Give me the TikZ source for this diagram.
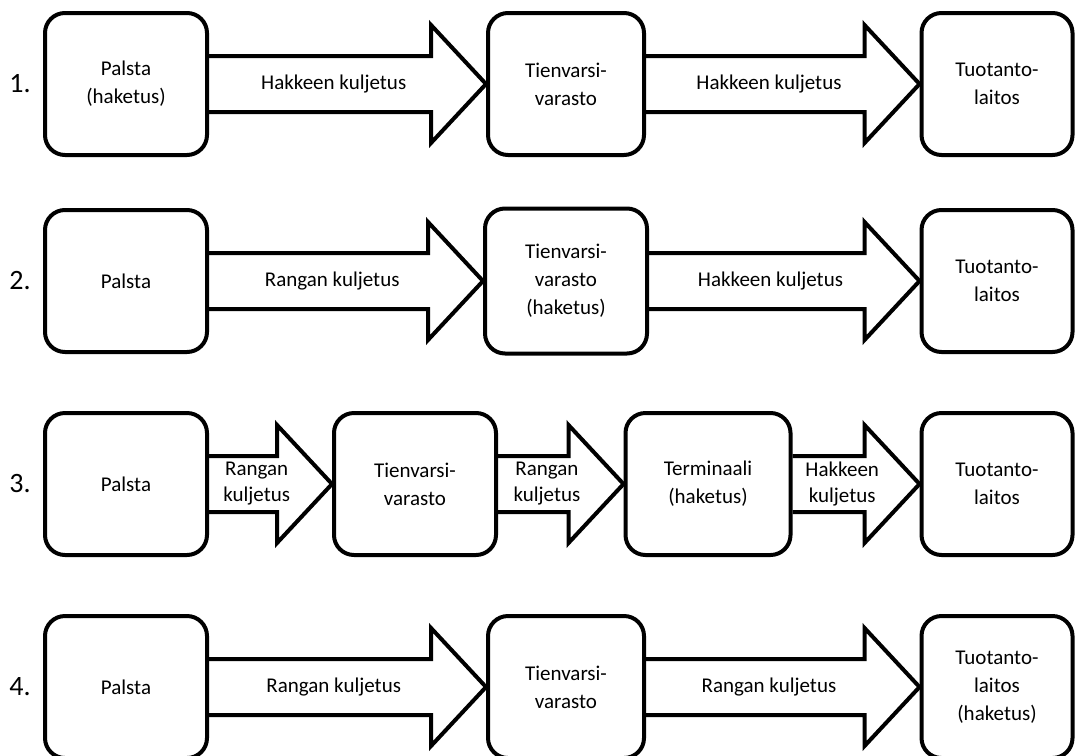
\documentclass[tikz,border=0pt]{standalone}
\usepackage{fontspec}
\setmainfont{Carlito}
\usetikzlibrary{calc}
\newcommand{\hugearrow}[3]{%
\draw[big arrow] let \p1=(#1.east), \p2=(#2.west) in
  (\x1,\y1+14pt) -- (\x2-27.5pt,\y1+14pt) -- (\x2-27.5pt,\y1+29.5pt) -- (\x2,\y1)
  -- (\x2-27.5pt,\y1-29.5pt) -- (\x2-27.5pt,\y1-14pt) -- (\x1,\y1-14pt)
  node[arrow text] (#1#2) at ({(\x1+\x2)/2-6.9pt},\y1) {#3};}
\begin{document}
\begin{tikzpicture}[x=0.5pt, y=-0.5pt, main node/.style={draw,rectangle,rounded corners=10pt,line width=2pt,minimum height=71pt,align=center,font=\fontsize{10.5}{14}\selectfont}, big arrow/.style={line width=2pt,line join=miter}, arrow text/.style={align=center,font=\fontsize{10.5}{13}\selectfont}, row label/.style={font=\fontsize{14}{16}\selectfont}]
\useasboundingbox (0,0) rectangle (1079,755);
\begin{scope}
\node[row label] (n1) at (20,84) {1.};
\node[row label] (n2) at (20,281) {2.};
\node[row label] (n3) at (20,484) {3.};
\node[row label] (n4) at (20,687) {4.};
\end{scope}
\begin{scope}
% 1.
\node[main node, minimum width=81pt] (p1) at (126,84) {Palsta\\(haketus)};
\node[main node, minimum width=78pt] (t1) at (566,84) {Tienvarsi-\\varasto};
\node[main node, minimum width=75.5pt] (l1) at (997,84) {Tuotanto-\\laitos};
% 2.
\node[main node, minimum width=81pt] (p2) at (126,281) {Palsta};
\node[main node, minimum width=81pt, minimum height=72.5pt] (t2) at (566,281) {Tienvarsi-\\varasto\\(haketus)};
\node[main node, minimum width=75.5pt] (l2) at (997,281) {Tuotanto-\\laitos};
% 3.
\node[main node, minimum width=81pt] (p3) at (126,484) {Palsta};
\node[main node, minimum width=81pt] (t3) at (415,484) {Tienvarsi-\\varasto};
\node[main node, minimum width=82.5pt] (m3) at (708,484) {Terminaali\\(haketus)};
\node[main node, minimum width=75.5pt] (l3) at (997,484) {Tuotanto-\\laitos};
% 4.
\node[main node, minimum width=81pt] (p4) at (126,687) {Palsta};
\node[main node, minimum width=78pt] (t4) at (566,687) {Tienvarsi-\\varasto};
\node[main node, minimum width=75.5pt] (l4) at (997,687) {Tuotanto-\\laitos\\(haketus)};
\end{scope}
\begin{scope}
\hugearrow{p1}{t1}{Hakkeen kuljetus}
\hugearrow{t1}{l1}{Hakkeen kuljetus}
\hugearrow{p2}{t2}{Rangan kuljetus}
\hugearrow{t2}{l2}{Hakkeen kuljetus}
\hugearrow{p3}{t3}{Rangan\\kuljetus}
\hugearrow{t3}{m3}{Rangan\\kuljetus}
\hugearrow{m3}{l3}{Hakkeen\\kuljetus}
\hugearrow{p4}{t4}{Rangan kuljetus}
\hugearrow{t4}{l4}{Rangan kuljetus}
\end{scope}
\end{tikzpicture}
\end{document}
